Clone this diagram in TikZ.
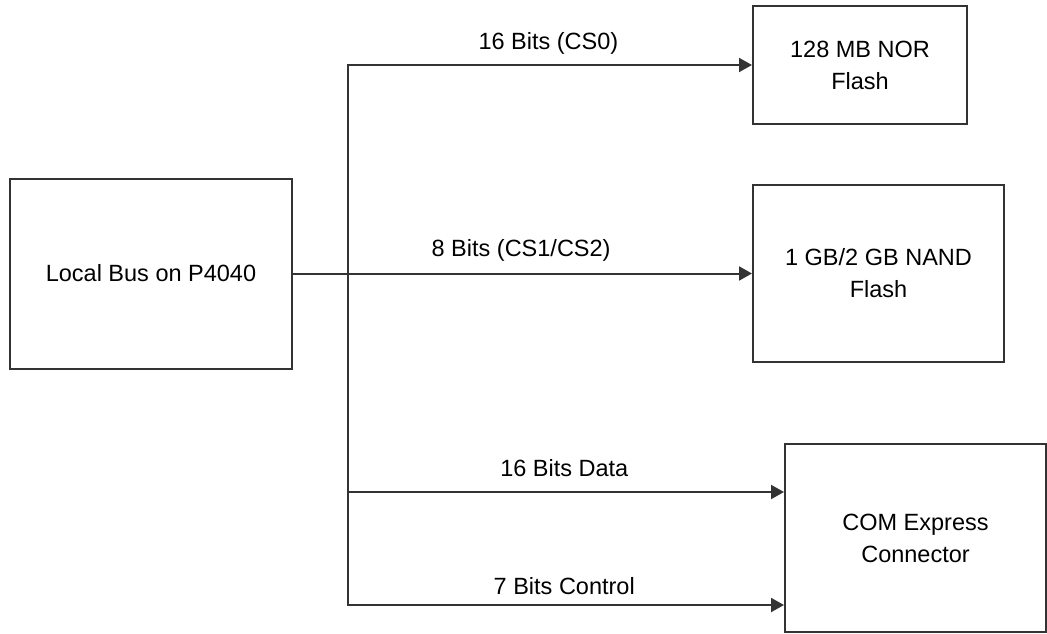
\documentclass[tikz,border=0pt]{standalone}
\usepackage{fontspec}
\setmainfont{Liberation Sans}
\usetikzlibrary{arrows.meta}
\begin{document}
\begin{tikzpicture}[x=1pt,y=-1pt,>={Triangle[length=13pt,width=14pt]},font=\fontsize{23.5}{32}\selectfont]
  \tikzstyle{unit}=[draw=black!80,line width=2pt,align=center,inner sep=0pt]
  \tikzstyle{link}=[draw=black!80,line width=2pt]
  \useasboundingbox (0,0) rectangle (1047,634);
  \node[unit,minimum width=282pt,minimum height=190pt] (lbus) at (151,273.5) {Local Bus on P4040};
  \node[unit,minimum width=214pt,minimum height=118pt] (nor) at (860,65) {128 MB NOR\\Flash};
  \node[unit,minimum width=251pt,minimum height=177pt] (nand) at (878.5,273.5) {1 GB/2 GB NAND\\Flash};
  \node[unit,minimum width=261pt,minimum height=188pt] (com) at (915.5,538) {COM Express\\Connector};
  \coordinate (split) at (348,273.5);
  \draw[link,->] (lbus.east) -- node[pos=.497,yshift=23pt] {8 Bits (CS1/CS2)} (nand.west);
  \draw[link,->] (split) |- node[pos=.748,yshift=22pt] {16 Bits (CS0)} (nor.west);
  \draw[link,->] (split) |- node[pos=.748,yshift=24pt] {16 Bits Data} ([yshift=46pt]com.west);
  \draw[link,->] (split) |- node[pos=.748,yshift=19pt] {7 Bits Control} ([yshift=-67pt]com.west);
\end{tikzpicture}
\end{document}
